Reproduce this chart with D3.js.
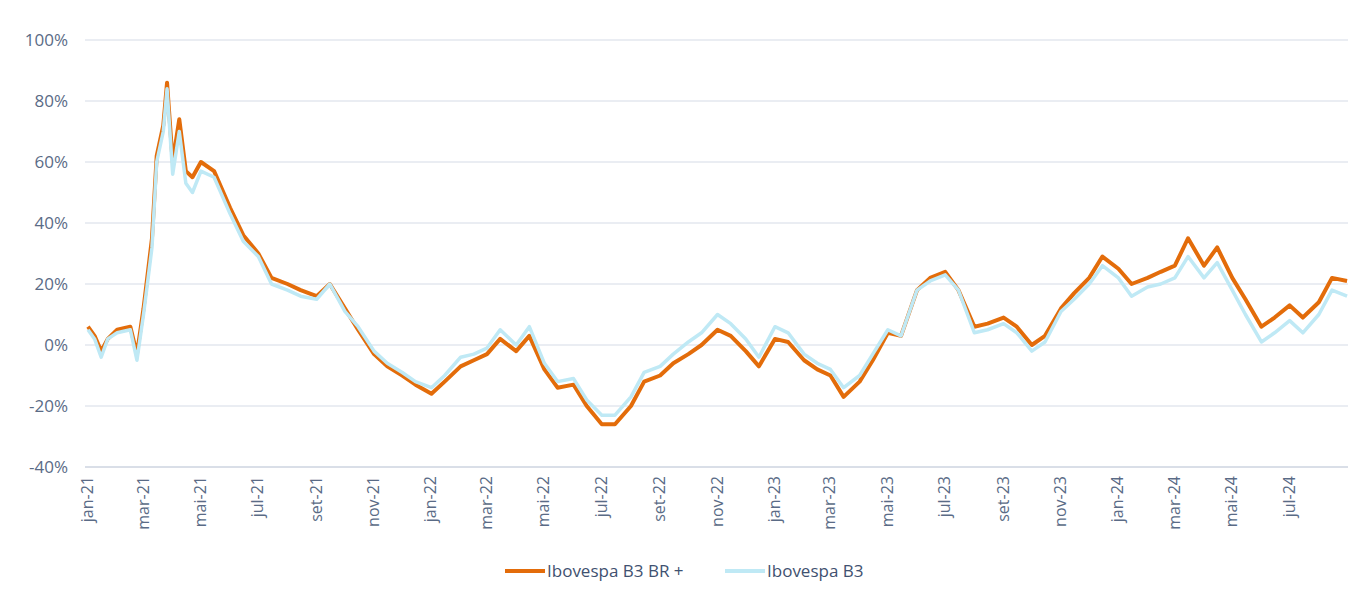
<!DOCTYPE html>
<html><head><meta charset="utf-8">
<script src="https://cdn.jsdelivr.net/npm/d3@7"></script>
<style>body{margin:0;background:#fff;font-family:"Open Sans",sans-serif}</style>
</head><body><svg id="c" width="1371" height="602"></svg>
<script>
const dates = ["2021-01-01","2021-01-08","2021-01-15","2021-01-22","2021-02-01","2021-02-15","2021-02-22","2021-03-01","2021-03-10","2021-03-15","2021-03-22","2021-03-26","2021-04-01","2021-04-08","2021-04-15","2021-04-22","2021-05-01","2021-05-15","2021-06-01","2021-06-15","2021-07-01","2021-07-15","2021-08-01","2021-08-15","2021-09-01","2021-09-15","2021-10-01","2021-10-15","2021-11-01","2021-11-15","2021-12-01","2021-12-15",
"2022-01-01","2022-01-15","2022-02-01","2022-02-15","2022-03-01","2022-03-15","2022-04-01","2022-04-15","2022-05-01","2022-05-15","2022-06-01","2022-06-15","2022-07-01","2022-07-15","2022-08-01","2022-08-15","2022-09-01","2022-09-15","2022-10-01","2022-10-15","2022-11-01","2022-11-15","2022-12-01","2022-12-15",
"2023-01-01","2023-01-15","2023-02-01","2023-02-15","2023-03-01","2023-03-15","2023-04-01","2023-04-15","2023-05-01","2023-05-15","2023-06-01","2023-06-15","2023-07-01","2023-07-15","2023-08-01","2023-08-15","2023-09-01","2023-09-15","2023-10-01","2023-10-15","2023-11-01","2023-11-15","2023-12-01","2023-12-15",
"2024-01-01","2024-01-15","2024-02-01","2024-02-15","2024-03-01","2024-03-15","2024-04-01","2024-04-15","2024-05-01","2024-05-15","2024-06-01","2024-06-15","2024-07-01","2024-07-15","2024-08-01","2024-08-15","2024-08-31"];
const brPlus = [6,3,-2,2,5,6,-3,12,35,62,72,86,60,74,57,55,60,57,45,36,30,22,20,18,16,20,12,5,-3,-7,-10,-13,
-16,-12,-7,-5,-3,2,-2,3,-8,-14,-13,-20,-26,-26,-20,-12,-10,-6,-3,0,5,3,-2,-7,
2,1,-5,-8,-10,-17,-12,-5,4,3,18,22,24,18,6,7,9,6,0,3,12,17,22,29,
25,20,22,24,26,35,26,32,22,15,6,9,13,9,14,22,21];
const ibov = [5,2,-4,2,4,5,-5,10,32,60,70,84,56,70,53,50,57,55,43,34,29,20,18,16,15,20,11,6,-2,-6,-9,-12,
-14,-10,-4,-3,-1,5,0,6,-6,-12,-11,-18,-23,-23,-17,-9,-7,-3,1,4,10,7,2,-4,
6,4,-3,-6,-8,-14,-10,-3,5,3,18,21,23,18,4,5,7,4,-2,1,11,15,20,26,
22,16,19,20,22,29,22,27,18,10,1,4,8,4,10,18,16];
const yTicks = [-40,-20,0,20,40,60,80,100];
const monthNames = ["jan","fev","mar","abr","mai","jun","jul","ago","set","out","nov","dez"];
const seriesNames = ["Ibovespa B3 BR +","Ibovespa B3"];
const colors = ["#e36c0a","#bfe9f5"];

const svg = d3.select("#c");
const parse = d3.timeParse("%Y-%m-%d");
const x = d3.scaleTime().domain([new Date(2021,0,1), new Date(2024,8,1)]).range([88,1348]);
const y = d3.scaleLinear().domain([-40,100]).range([467,40]);

// gridlines + y labels
svg.append("g").selectAll("line").data(yTicks).join("line")
  .attr("x1",85).attr("x2",1348).attr("y1",d=>y(d)).attr("y2",d=>y(d))
  .attr("stroke","#d5dbe6").attr("stroke-width",1);
svg.append("g").selectAll("text").data(yTicks).join("text")
  .attr("x",68).attr("y",d=>y(d)+6).attr("text-anchor","end")
  .attr("font-size",17).attr("fill","#5a6b86").text(d=>d+"%");

// x axis
const xTicks = d3.timeMonth.every(2).range(new Date(2021,0,1), new Date(2024,8,1));
svg.append("line").attr("x1",85).attr("x2",1348).attr("y1",y(-40)).attr("y2",y(-40)).attr("stroke","#c9d0dc");
svg.append("g").selectAll("text").data(xTicks).join("text")
  .attr("transform",d=>`translate(${x(d)+5},${476}) rotate(-90)`)
  .attr("text-anchor","end").attr("font-size",16).attr("fill","#5a6b86")
  .text(d=>monthNames[d.getMonth()]+"-"+String(d.getFullYear()).slice(2));

// orange underneath, light blue on top
const line = d3.line().x(d=>x(parse(d[0]))).y(d=>y(d[1]));
[brPlus, ibov].forEach((vals,i)=>{
  svg.append("path").datum(dates.map((d,j)=>[d,vals[j]]))
    .attr("d",line).attr("fill","none").attr("stroke",colors[i])
    .attr("stroke-width",i===0?4:3.5).attr("stroke-linejoin","round");
});

// legend
const lg = svg.append("g").attr("transform","translate(505,571)");
const lx = [0,220];
seriesNames.forEach((n,i)=>{
  lg.append("line").attr("x1",lx[i]).attr("x2",lx[i]+40).attr("y1",0).attr("y2",0)
    .attr("stroke",colors[i]).attr("stroke-width",4);
  lg.append("text").attr("x",lx[i]+42).attr("y",6).attr("font-size",17).attr("fill","#3f5170").text(n);
});
</script></body></html>
